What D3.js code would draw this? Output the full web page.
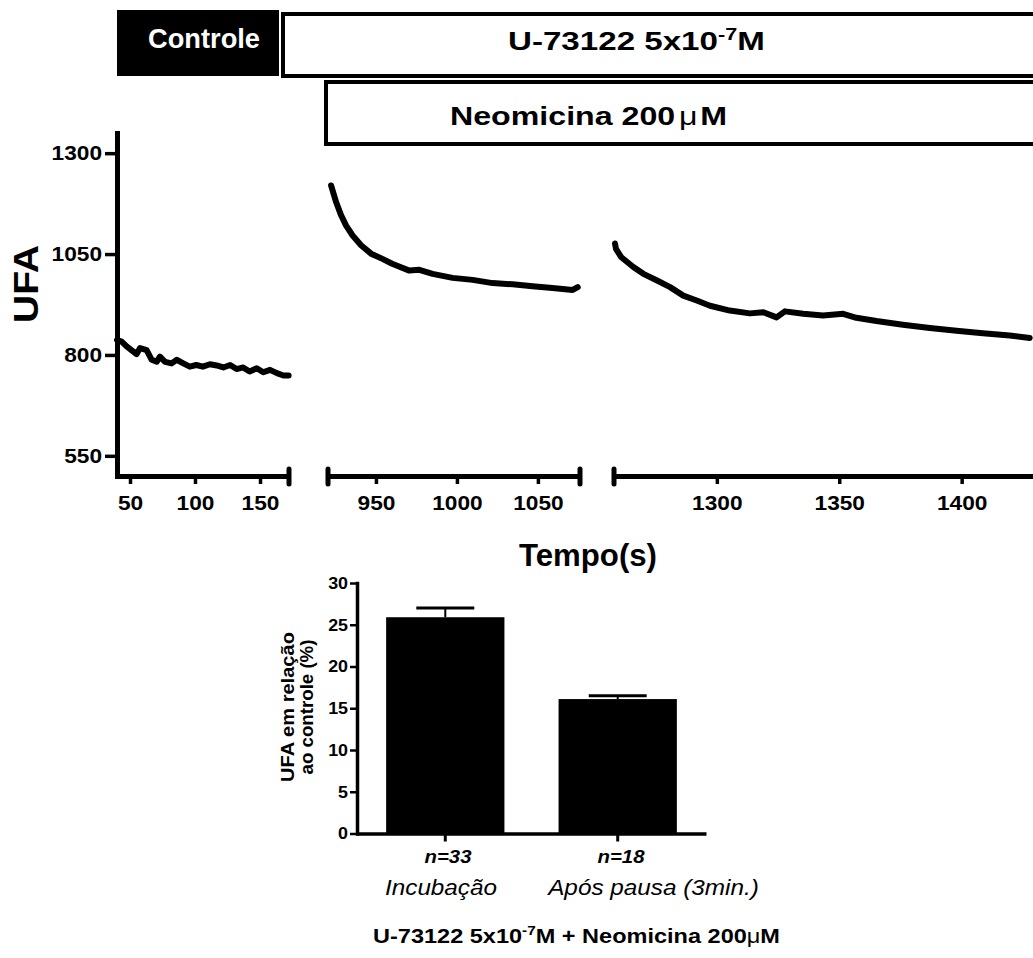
<!DOCTYPE html>
<html>
<head>
<meta charset="utf-8">
<script src="https://cdn.jsdelivr.net/npm/d3@7"></script>
<style>
  body { margin: 0; background: #fff; }
  svg { display: block; font-family: "Liberation Sans", Arial, sans-serif; }
</style>
</head>
<body>
<svg id="chart" width="1033" height="958"></svg>
<script>
// ---------- values ----------
const ufaTicks = [550, 800, 1050, 1300];

// controle segment (s, UFA)
const ctrlTime = [40, 43.6, 47.4, 52.6, 55, 57.7, 62.8, 66.7, 70.5, 73, 77, 82, 86, 91, 96,
                  101, 106, 111.5, 116.7, 121.8, 127, 132, 137, 142, 147.5, 152.5, 157.7, 163, 168, 172];
const ctrlUFA  = [837, 833, 821, 808, 802, 817, 812, 788, 783, 796, 783, 779, 788, 779, 771,
                  775, 771, 777, 774, 769, 775, 765, 769, 759, 767, 757, 763, 755, 749, 749];
const ctrlTicks = [50, 100, 150];

// incubacao segment
const incTime = [922.3, 925.4, 928.5, 931.5, 935.6, 940.8, 947, 954, 960, 970.6, 976.8, 985,
                 997.3, 1009.7, 1022, 1034.4, 1046.7, 1059, 1071.5, 1074.6];
const incUFA  = [1220, 1179, 1146, 1121, 1096, 1072, 1051, 1038, 1026, 1009, 1011, 1001,
                 991, 986, 978, 975, 970, 966, 961, 968];
const incTicks = [950, 1000, 1050];

// apos pausa segment
const posTime = [1258.4, 1258.8, 1261, 1265.9, 1270, 1275.4, 1280.9, 1286.3, 1291.8, 1297.2, 1305.3,
                 1313.5, 1319, 1324.4, 1327.8, 1335.3, 1343.4, 1351.6, 1357, 1365.2, 1376, 1387,
                 1397.9, 1408.7, 1419.6, 1427.8];
const posUFA  = [1076, 1063, 1042, 1018, 1001, 985, 968, 947, 935, 922, 910,
                 903, 906, 893, 908, 902, 898, 902, 892, 884, 875, 867,
                 860, 854, 848, 842];
const posTicks = [1300, 1350, 1400];

// bar chart
const barGroups = ["Incubação", "Após pausa (3min.)"];
const barN = ["n=33", "n=18"];
const barMean = [25.9, 16.1];
const barSem = [1.1, 0.4];
const barTicks = [0, 5, 10, 15, 20, 25, 30];

// ---------- drawing ----------
const svg = d3.select("#chart");

// draws a text, then stretches it horizontally to the given width (figure is widened)
function label(x, y, width, o, build) {
    const g = svg.append("g");
    const t = g.append("text")
        .attr("text-anchor", o.anchor || "middle")
        .attr("fill", o.color || "#000")
        .style("font-size", o.size + "px")
        .style("font-weight", o.bold ? "bold" : "normal")
        .style("font-style", o.italic ? "italic" : "normal");
    if (typeof build === "string") t.text(build); else build(t);
    const bw = t.node().getBBox().width;
    const sx = width ? width / bw : 1;
    g.attr("transform", `translate(${x},${y}) rotate(${o.rotate || 0}) scale(${sx},1)`);
    return g;
}

function stretchTicks(sel, sx) {
    sel.selectAll(".tick text").each(function () {
        const t = d3.select(this);
        const x = +t.attr("x") || 0;
        t.attr("transform", `translate(${x * (1 - sx)},0) scale(${sx},1)`);
    });
}

// --- treatment boxes on top
svg.append("rect").attr("x", 117).attr("y", 10).attr("width", 162).attr("height", 66).attr("fill", "#000");
svg.append("rect").attr("x", 283).attr("y", 14).attr("width", 770).attr("height", 62)
    .attr("fill", "#fff").attr("stroke", "#000").attr("stroke-width", 4);
svg.append("rect").attr("x", 326).attr("y", 82).attr("width", 730).attr("height", 62)
    .attr("fill", "#fff").attr("stroke", "#000").attr("stroke-width", 4);

label(204, 48, 112, {size: 27, bold: true, color: "#fff"}, "Controle");
label(508, 50, 257, {size: 26, bold: true, anchor: "start"}, t => {
    t.append("tspan").text("U-73122 5x10");
    t.append("tspan").attr("dy", -10).style("font-size", "17px").text("-7");
    t.append("tspan").attr("dy", 10).text("M");
});
label(450, 125, 277, {size: 25, bold: true, anchor: "start"}, t => {
    t.append("tspan").text("Neomicina 200");
    t.append("tspan").attr("dx", 3).style("font-weight", "normal").text("μ");
    t.append("tspan").attr("dx", 2).text("M");
});

// --- traces with broken x axis
const y = d3.scaleLinear().domain([500, 1350]).range([476, 133]);
const axisY = 476;
const fmt = d3.format("d");

const panels = [
    {time: ctrlTime, ufa: ctrlUFA, ticks: ctrlTicks, domain: [40, 172.3], range: [117, 289], capL: false, capR: true},
    {time: incTime, ufa: incUFA, ticks: incTicks, domain: [920.4, 1076], range: [328, 580], capL: true, capR: true},
    {time: posTime, ufa: posUFA, ticks: posTicks, domain: [1258, 1432], range: [614, 1040], capL: true, capR: false}
];

panels.forEach(p => {
    const x = d3.scaleLinear().domain(p.domain).range(p.range);

    const ax = svg.append("g")
        .attr("transform", `translate(0,${axisY})`)
        .call(d3.axisBottom(x).tickValues(p.ticks).tickFormat(fmt).tickSize(8).tickSizeOuter(0).tickPadding(11));
    ax.select(".domain").attr("stroke-width", 5);
    ax.selectAll(".tick line").attr("stroke-width", 3.5);
    ax.selectAll(".tick text").style("font-size", "21px").style("font-weight", "bold").attr("fill", "#000");
    stretchTicks(ax, 1.08);

    [p.capL ? p.range[0] : null, p.capR ? p.range[1] : null].forEach(cx => {
        if (cx === null) return;
        svg.append("line").attr("x1", cx).attr("x2", cx).attr("y1", axisY - 7).attr("y2", axisY + 8)
            .attr("stroke", "#000").attr("stroke-width", 5).attr("stroke-linecap", "round");
    });

    const pts = p.time.map((t, i) => [t, p.ufa[i]]);
    svg.append("path")
        .datum(pts)
        .attr("fill", "none")
        .attr("stroke", "#000")
        .attr("stroke-width", 6)
        .attr("stroke-linejoin", "round")
        .attr("stroke-linecap", "round")
        .attr("d", d3.line().x(d => x(d[0])).y(d => y(d[1])));
});

const ay = svg.append("g")
    .attr("transform", "translate(117,0)")
    .call(d3.axisLeft(y).tickValues(ufaTicks).tickFormat(fmt).tickSize(12).tickPadding(3).tickSizeOuter(0));
ay.select(".domain").attr("stroke-width", 5).attr("stroke-linecap", "square");
ay.selectAll(".tick line").attr("stroke-width", 3.5);
ay.selectAll(".tick text").style("font-size", "21px").style("font-weight", "bold").attr("fill", "#000");
stretchTicks(ay, 1.08);

label(38, 284, 78, {size: 35, bold: true, rotate: -90}, "UFA");
label(588, 566, 138, {size: 31, bold: true}, "Tempo(s)");

// --- bar chart
const xb = d3.scaleBand().domain(barGroups).range([357, 706]).paddingInner(0.314).paddingOuter(0.169);
const yb = d3.scaleLinear().domain([0, 30]).range([833.5, 583]);

svg.selectAll(".bar")
    .data(barGroups)
    .enter().append("rect")
    .attr("class", "bar")
    .attr("x", d => xb(d))
    .attr("width", xb.bandwidth())
    .attr("y", (d, i) => yb(barMean[i]))
    .attr("height", (d, i) => yb(0) - yb(barMean[i]))
    .attr("fill", "#000");

barGroups.forEach((d, i) => {
    const cx = xb(d) + xb.bandwidth() / 2;
    const top = yb(barMean[i] + barSem[i]);
    const half = xb.bandwidth() * 0.245;
    svg.append("line").attr("x1", cx).attr("x2", cx).attr("y1", yb(barMean[i])).attr("y2", top)
        .attr("stroke", "#000").attr("stroke-width", 2);
    svg.append("line").attr("x1", cx - half).attr("x2", cx + half).attr("y1", top).attr("y2", top)
        .attr("stroke", "#000").attr("stroke-width", 3);
});

const bx = svg.append("g")
    .attr("transform", `translate(0,${yb(0)})`)
    .call(d3.axisBottom(xb).tickSize(8).tickSizeOuter(0).tickFormat(""));
bx.select(".domain").attr("stroke-width", 3.5);
bx.selectAll(".tick line").attr("stroke-width", 3);

const by = svg.append("g")
    .attr("transform", "translate(357,0)")
    .call(d3.axisLeft(yb).tickValues(barTicks).tickSize(7).tickPadding(2).tickSizeOuter(0));
by.select(".domain").attr("stroke-width", 3.5).attr("stroke-linecap", "square");
by.selectAll(".tick line").attr("stroke-width", 2.5);
by.selectAll(".tick text").style("font-size", "17px").style("font-weight", "bold").attr("fill", "#000");
stretchTicks(by, 1.05);

// group labels
label(448, 863, 47, {size: 18, bold: true, italic: true}, barN[0]);
label(621, 863, 47, {size: 18, bold: true, italic: true}, barN[1]);
label(441, 895, 112, {size: 22, italic: true}, barGroups[0]);
label(653.5, 895, 213, {size: 22, italic: true}, barGroups[1]);

label(294, 707, 150, {size: 19, bold: true, rotate: -90}, "UFA em relação");
label(313, 707, 135, {size: 19, bold: true, rotate: -90}, "ao controle (%)");

label(576.5, 943, 407, {size: 20, bold: true}, t => {
    t.append("tspan").text("U-73122 5x10");
    t.append("tspan").attr("dy", -8).style("font-size", "13px").text("-7");
    t.append("tspan").attr("dy", 8).text("M + Neomicina 200");
    t.append("tspan").style("font-weight", "normal").text("μ");
    t.append("tspan").text("M");
});
</script>
</body>
</html>
